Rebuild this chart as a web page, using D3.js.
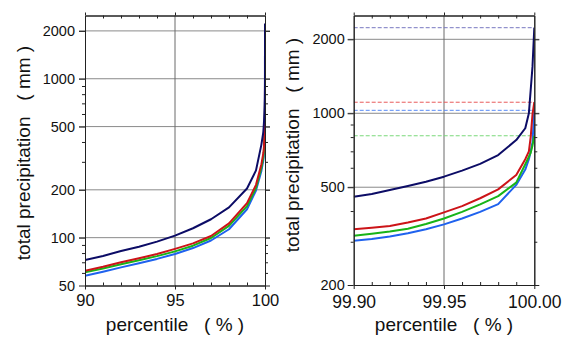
<!DOCTYPE html>
<html><head><meta charset="utf-8">
<script src="https://cdn.jsdelivr.net/npm/d3@7"></script>
<style>
html,body{margin:0;padding:0;background:#fff;}
svg text{font-family:"Liberation Sans",Arial,Helvetica,sans-serif;fill:#111;}
</style></head>
<body><svg id="c" width="565" height="338"></svg>
<script>
// ---- data ----
const percentiles = [90, 91, 92, 93, 94, 95, 96, 97, 98, 99, 99.5, 99.8, 99.9, 99.91, 99.92, 99.93, 99.94, 99.95, 99.96, 99.97, 99.98, 99.99, 99.995, 99.997, 99.998, 99.999, 100];
const navyValues  = [72.4, 76.7, 82.4, 87.7, 94.4, 103, 114.6, 130.6, 155, 204, 265, 385, 457, 469, 487, 506, 526, 552, 584, 622, 676, 778, 869, 1000, 1244, 1548, 2230];
const redValues   = [62, 65.6, 70, 74.2, 78.9, 85, 92, 102.5, 123, 165, 215, 290, 337, 342, 348, 359, 373, 395, 419, 451, 490, 561, 650, 700, 800, 990, 1109];
const greenValues = [60.5, 64, 68, 72, 76.5, 82, 89, 99.5, 118.5, 158, 205, 275, 317, 323, 330, 339, 354, 373, 397, 426, 460, 522, 620, 665, 690, 740, 810];
const blueValues  = [57.5, 61, 65, 69, 73.5, 79, 86, 96, 113, 151, 198, 263, 303, 308, 315, 325, 337, 353, 373, 397, 427, 511, 590, 650, 700, 760, 1028];
const seriesNames = ["navy", "red", "green", "blue"];
const maxValues = [2230, 1109, 810, 1028];   // dashed reference lines (right panel)

const leftXTicks = [90, 95, 100];
const leftXTickLabels = ["90", "95", "100"];
const leftXMinor = [91, 92, 93, 94, 96, 97, 98, 99];
const leftYTicks = [50, 100, 200, 500, 1000, 2000];
const leftYTickLabels = ["50", "100", "200", "500", "1000", "2000"];
const leftYMinor = [60, 70, 80, 90, 300, 400, 600, 700, 800, 900];
const rightXTicks = [99.90, 99.95, 100.00];
const rightXTickLabels = ["99.90", "99.95", "100.00"];
const rightXMinor = [99.91, 99.92, 99.93, 99.94, 99.96, 99.97, 99.98, 99.99];
const rightYTicks = [200, 500, 1000, 2000];
const rightYTickLabels = ["200", "500", "1000", "2000"];
const rightYMinor = [300, 400, 600, 700, 800, 900];
const xTitle = "percentile   ( % )";
const yTitle = "total precipitation   ( mm )";

// ---- styles ----
const colors = {navy: "#0c0c66", red: "#cc1418", green: "#18b418", blue: "#1f62ee"};
const dashColors = {navy: "#7878c0", red: "#e85a5a", green: "#7ad87a", blue: "#5a8cf5"};

const series = seriesNames.map((n, i) => ({
  name: n,
  values: [navyValues, redValues, greenValues, blueValues][i].map((v, j) => ({p: percentiles[j], v}))
}));

const svg = d3.select("#c");

function panel(cfg) {
  const x = d3.scaleLinear().domain(cfg.xDom).range([cfg.x0, cfg.x1]);
  const y = d3.scaleLog().domain(cfg.yDom).range([cfg.y0, cfg.y1]);
  const g = svg.append("g");
  const clipId = "clip" + cfg.id;
  svg.append("clipPath").attr("id", clipId).append("rect")
    .attr("x", cfg.x0).attr("y", cfg.y1).attr("width", cfg.x1 - cfg.x0).attr("height", cfg.y0 - cfg.y1);

  // grid
  g.selectAll(".hg").data(cfg.yGrid).enter().append("line")
    .attr("x1", cfg.x0 - 6).attr("x2", cfg.x1 + 5)
    .attr("y1", d => y(d)).attr("y2", d => y(d))
    .attr("stroke", "#8a8a8a").attr("stroke-width", 1);
  g.selectAll(".vg").data(cfg.xGrid).enter().append("line")
    .attr("x1", d => x(d)).attr("x2", d => x(d))
    .attr("y1", cfg.y1).attr("y2", cfg.y0)
    .attr("stroke", "#6a6a6a").attr("stroke-width", 1);

  // dashed max lines
  if (cfg.dashed) {
    g.append("g").attr("clip-path", `url(#${clipId})`).selectAll("line").data(seriesNames).enter().append("line")
      .attr("x1", cfg.x0).attr("x2", cfg.x1)
      .attr("y1", (d, i) => y(maxValues[i])).attr("y2", (d, i) => y(maxValues[i]))
      .attr("stroke", d => dashColors[d]).attr("stroke-width", 1).attr("stroke-dasharray", "4,2");
  }

  // lines
  const line = d3.line().x(d => x(d.p)).y(d => y(d.v));
  const lg = g.append("g").attr("clip-path", `url(#${clipId})`);
  [...series].reverse().forEach(s => {
    lg.append("path").datum(s.values.filter(d => d.p >= cfg.xDom[0] - 1e-9))
      .attr("d", line).attr("fill", "none").attr("stroke", colors[s.name])
      .attr("stroke-width", 2).attr("stroke-linejoin", "round");
  });

  // axes
  const ax = (sel) => { sel.select(".domain").attr("stroke", "#222"); sel.selectAll(".tick line").attr("stroke", "#222"); };
  const bottom = g.append("g").attr("transform", `translate(0,${cfg.y0})`)
    .call(d3.axisBottom(x).tickValues(cfg.xTicks).tickFormat((d, i) => cfg.xLabels[i]).tickSize(4).tickSizeOuter(0).tickPadding(3));
  bottom.selectAll("text").attr("font-size", cfg.xFont).attr("dy", null).attr("y", cfg.xLabelY - cfg.y0);
  ax(bottom);
  const bottomMinor = g.append("g").attr("transform", `translate(0,${cfg.y0})`)
    .call(d3.axisBottom(x).tickValues(cfg.xMinor).tickFormat("").tickSize(-3).tickSizeOuter(0));
  ax(bottomMinor);
  const top = g.append("g").attr("transform", `translate(0,${cfg.y1})`)
    .call(d3.axisTop(x).tickValues(cfg.xTicks).tickFormat("").tickSize(3).tickSizeOuter(0));
  ax(top);
  const topMinor = g.append("g").attr("transform", `translate(0,${cfg.y1})`)
    .call(d3.axisTop(x).tickValues(cfg.xMinor).tickFormat("").tickSize(-3).tickSizeOuter(0));
  ax(topMinor);
  const left = g.append("g").attr("transform", `translate(${cfg.x0},0)`)
    .call(d3.axisLeft(y).tickValues(cfg.yTicks).tickFormat((d, i) => cfg.yLabels[i]).tickSize(6).tickSizeOuter(0).tickPadding(cfg.yPad));
  left.selectAll("text").attr("font-size", 14.5);
  ax(left);
  const leftMinor = g.append("g").attr("transform", `translate(${cfg.x0},0)`)
    .call(d3.axisLeft(y).tickValues(cfg.yMinor).tickFormat("").tickSize(3).tickSizeOuter(0));
  ax(leftMinor);
  const right = g.append("g").attr("transform", `translate(${cfg.x1},0)`)
    .call(d3.axisRight(y).tickValues(cfg.yTicks).tickFormat("").tickSize(5).tickSizeOuter(0));
  ax(right);
  const rightMinor = g.append("g").attr("transform", `translate(${cfg.x1},0)`)
    .call(d3.axisRight(y).tickValues(cfg.yMinor).tickFormat("").tickSize(3).tickSizeOuter(0));
  ax(rightMinor);

  // titles
  g.append("text").attr("x", (cfg.x0 + cfg.x1) / 2).attr("y", 331)
    .attr("text-anchor", "middle").attr("font-size", 19).style("white-space", "pre").text(xTitle);
  g.append("text").attr("transform", `translate(${cfg.yTitleX},${cfg.yTitleY}) rotate(-90)`)
    .attr("text-anchor", "middle").attr("font-size", 19).style("white-space", "pre").text(yTitle);
}

panel({id: "L", x0: 85, x1: 265, y0: 285.5, y1: 15.5, xDom: [90, 100], yDom: [50, 2500],
  xTicks: leftXTicks, xLabels: leftXTickLabels, xMinor: leftXMinor, xGrid: [95],
  yTicks: leftYTicks, yLabels: leftYTickLabels, yMinor: leftYMinor, yGrid: [100, 200, 500, 1000, 2000],
  xFont: 16.5, xLabelY: 305.5, yPad: 4, yTitleX: 30, yTitleY: 153, dashed: false});
panel({id: "R", x0: 353.7, x1: 534.3, y0: 285, y1: 15.5, xDom: [99.9, 100], yDom: [200, 2500],
  xTicks: rightXTicks, xLabels: rightXTickLabels, xMinor: rightXMinor, xGrid: [99.95],
  yTicks: rightYTicks, yLabels: rightYTickLabels, yMinor: rightYMinor, yGrid: [500, 1000, 2000],
  xFont: 17.5, xLabelY: 308, yPad: 3, yTitleX: 298.5, yTitleY: 145, dashed: true});
</script></body></html>
